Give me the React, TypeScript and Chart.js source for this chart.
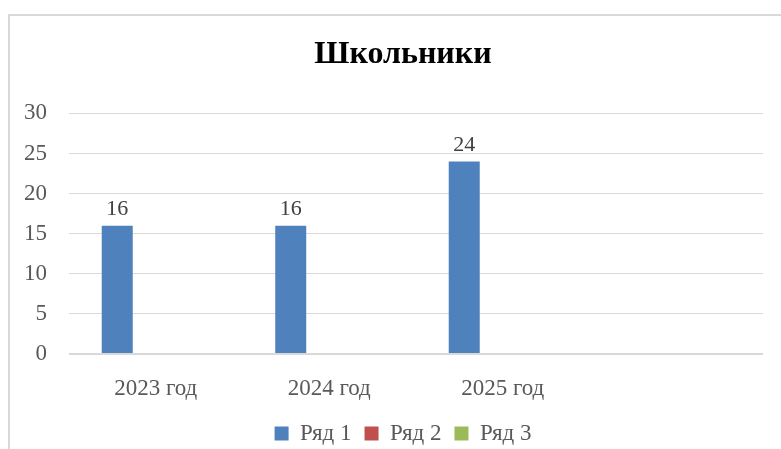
import React, { useEffect, useRef } from "react";
import { Chart, registerables } from "chart.js";

Chart.register(...registerables);

const categories = ["2023 год", "2024 год", "2025 год", ""];
const series1 = [16, 16, 24, null];
const series2 = [null, null, null, null];
const series3 = [null, null, null, null];
const seriesNames = ["Ряд 1", "Ряд 2", "Ряд 3"];
const yTicks = { min: 0, max: 30, step: 5 };
const chartTitle = "Школьники";

const FONT = '"Liberation Serif", "Times New Roman", serif';

const valueLabels = {
  id: "valueLabels",
  afterDatasetsDraw(chart: any) {
    const ctx = chart.ctx;
    ctx.save();
    ctx.font = `22px ${FONT}`;
    ctx.fillStyle = "#404040";
    ctx.textAlign = "center";
    ctx.textBaseline = "bottom";
    chart.data.datasets.forEach((ds: any, i: number) => {
      const meta = chart.getDatasetMeta(i);
      meta.data.forEach((el: any, j: number) => {
        const v = ds.data[j];
        if (v === null || v === undefined) return;
        ctx.fillText(String(v), el.x, el.y - 5);
      });
    });
    ctx.restore();
  },
};

export default function App() {
  const ref = useRef<HTMLCanvasElement | null>(null);
  useEffect(() => {
    document.body.style.margin = "0";
    document.body.style.overflow = "hidden";
    const chart = new Chart(ref.current as HTMLCanvasElement, {
      type: "bar",
      data: {
        labels: categories,
        datasets: [
          { label: seriesNames[0], data: series1, backgroundColor: "#4f81bd", borderWidth: 0 },
          { label: seriesNames[1], data: series2, backgroundColor: "#c0504d", borderWidth: 0 },
          { label: seriesNames[2], data: series3, backgroundColor: "#9bbb59", borderWidth: 0 },
        ],
      },
      options: {
        responsive: false,
        animation: false,
        maintainAspectRatio: false,
        categoryPercentage: 0.666,
        barPercentage: 0.805,
        layout: { padding: 0 },
        plugins: {
          title: {
            display: true,
            text: chartTitle,
            color: "#000000",
            font: { family: FONT, size: 32, weight: "bold" },
            padding: { top: 20, bottom: 39 },
          },
          legend: {
            position: "bottom",
            labels: {
              boxWidth: 14,
              boxHeight: 14,
              padding: 13,
              color: "#595959",
              font: { family: FONT, size: 23 },
            },
          },
          tooltip: { enabled: false },
        },
        scales: {
          x: {
            grid: { display: false, drawTicks: false },
            border: { display: false },
            ticks: { color: "#595959", font: { family: FONT, size: 23 }, padding: 21 },
            afterFit: (s: any) => { s.height = 55; },
          },
          y: {
            min: yTicks.min,
            max: yTicks.max,
            grid: {
              color: "#d9d9d9",
              lineWidth: (c: any) => (c.tick && c.tick.value === 0 ? 2 : 1),
              drawTicks: false,
            },
            border: { display: false },
            ticks: {
              stepSize: yTicks.step,
              color: "#595959",
              font: { family: FONT, size: 23 },
              padding: 22,
            },
            afterFit: (s: any) => { s.width = 59; },
          },
          spacer: {
            type: "linear",
            position: "right",
            min: yTicks.min,
            max: yTicks.max,
            grid: { display: false, drawTicks: false },
            border: { display: false },
            ticks: { display: false },
            afterFit: (s: any) => { s.width = 33; },
          },
        },
      },
      plugins: [valueLabels],
    });
    return () => chart.destroy();
  }, []);
  return (
    <div style={{ position: "fixed", left: 0, top: 0, width: 781, height: 449, overflow: "hidden", background: "#fff" }}>
      <div style={{ position: "absolute", left: 8, top: 14, width: 786, height: 460, border: "2px solid #d9d9d9", background: "#fff" }}>
        <canvas ref={ref} width={786} height={439} style={{ display: "block" }} />
      </div>
    </div>
  );
}
